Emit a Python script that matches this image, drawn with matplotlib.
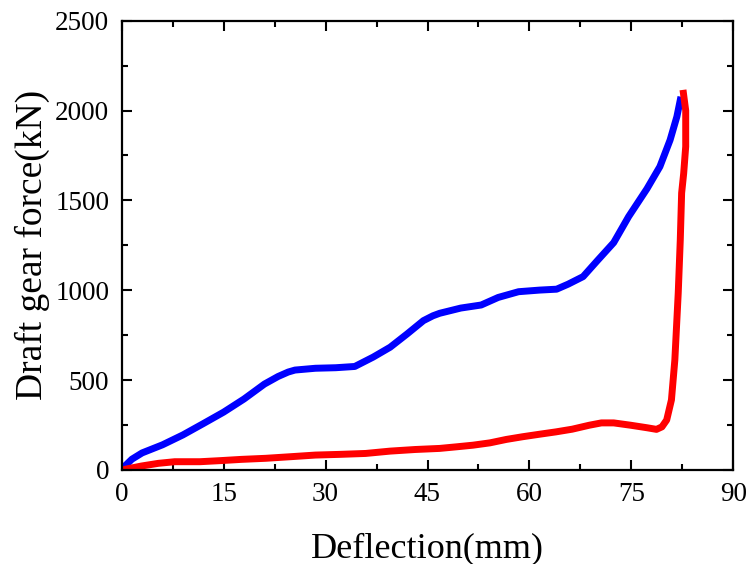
import matplotlib
matplotlib.use("Agg")
from matplotlib import pyplot as plt
from matplotlib.ticker import MultipleLocator

# loading curve (blue)
load_x = [0, 1.5, 3, 6, 9, 12, 15, 18, 21, 23, 24.5, 25.5, 28.5, 31.5, 34.3, 37,
          39.5, 42, 44.4, 45.8, 46.8, 49.9, 52.9, 55.4, 58.4, 61.5, 64, 65.7,
          67.9, 70.0, 72.4, 74.6, 77.3, 79.2, 80.7, 81.7, 82.3]
load_y = [5, 60, 95, 140, 195, 258, 322, 395, 478, 520, 545, 556, 566, 569, 576,
          628, 683, 757, 831, 858, 872, 901, 918, 960, 992, 1001, 1006, 1034,
          1076, 1165, 1265, 1410, 1565, 1688, 1836, 1966, 2077]

# unloading curve (red)
unload_x = [82.6, 83.0, 83.0, 82.7, 82.4, 82.2, 81.9, 81.4, 80.9, 80.2, 79.5,
            78.7, 77.3, 74.9, 72.4, 70.6, 68.8, 66.3, 63.9, 61.5, 59.0, 56.6,
            54.2, 51.7, 49.3, 46.8, 43.2, 39.5, 35.9, 32.2, 28.5, 24.9, 21.2,
            17.6, 14.5, 11.5, 7.8, 5.4, 2.9, 0.5, 0]
unload_y = [2115, 2000, 1800, 1650, 1541, 1280, 985, 612, 390, 278, 240, 226,
            235, 249, 262, 262, 249, 227, 212, 199, 185, 170, 151, 138, 129,
            120, 114, 105, 92, 87, 83, 74, 65, 59, 52, 46, 46, 37, 22, 4, 0]

plt.rcParams["font.family"] = ["Liberation Serif", "DejaVu Serif"]

fig = plt.figure(figsize=(7.5, 5.64), dpi=100)
ax = fig.add_axes([0.1623, 0.1667, 0.8154, 0.7966])

ax.plot(load_x, load_y, color="#0000ff", lw=5, solid_joinstyle="round",
        solid_capstyle="butt")
ax.plot(unload_x, unload_y, color="#ff0000", lw=5, solid_joinstyle="round",
        solid_capstyle="butt")

ax.set_xlim(0, 90)
ax.set_ylim(0, 2500)
ax.xaxis.set_major_locator(MultipleLocator(15))
ax.xaxis.set_minor_locator(MultipleLocator(7.5))
ax.yaxis.set_major_locator(MultipleLocator(500))
ax.yaxis.set_minor_locator(MultipleLocator(250))

ax.tick_params(which="both", direction="in", top=True, right=True, width=1.5)
ax.tick_params(which="major", length=7, labelsize=19.5, pad=9)
ax.tick_params(which="minor", length=4.5)
for s in ax.spines.values():
    s.set_linewidth(1.6)

ax.set_xlabel("Deflection(mm)", fontsize=26, labelpad=18)
ax.set_ylabel("Draft gear force(kN)", fontsize=27, labelpad=4)

fig.savefig("out.png", dpi=100)
